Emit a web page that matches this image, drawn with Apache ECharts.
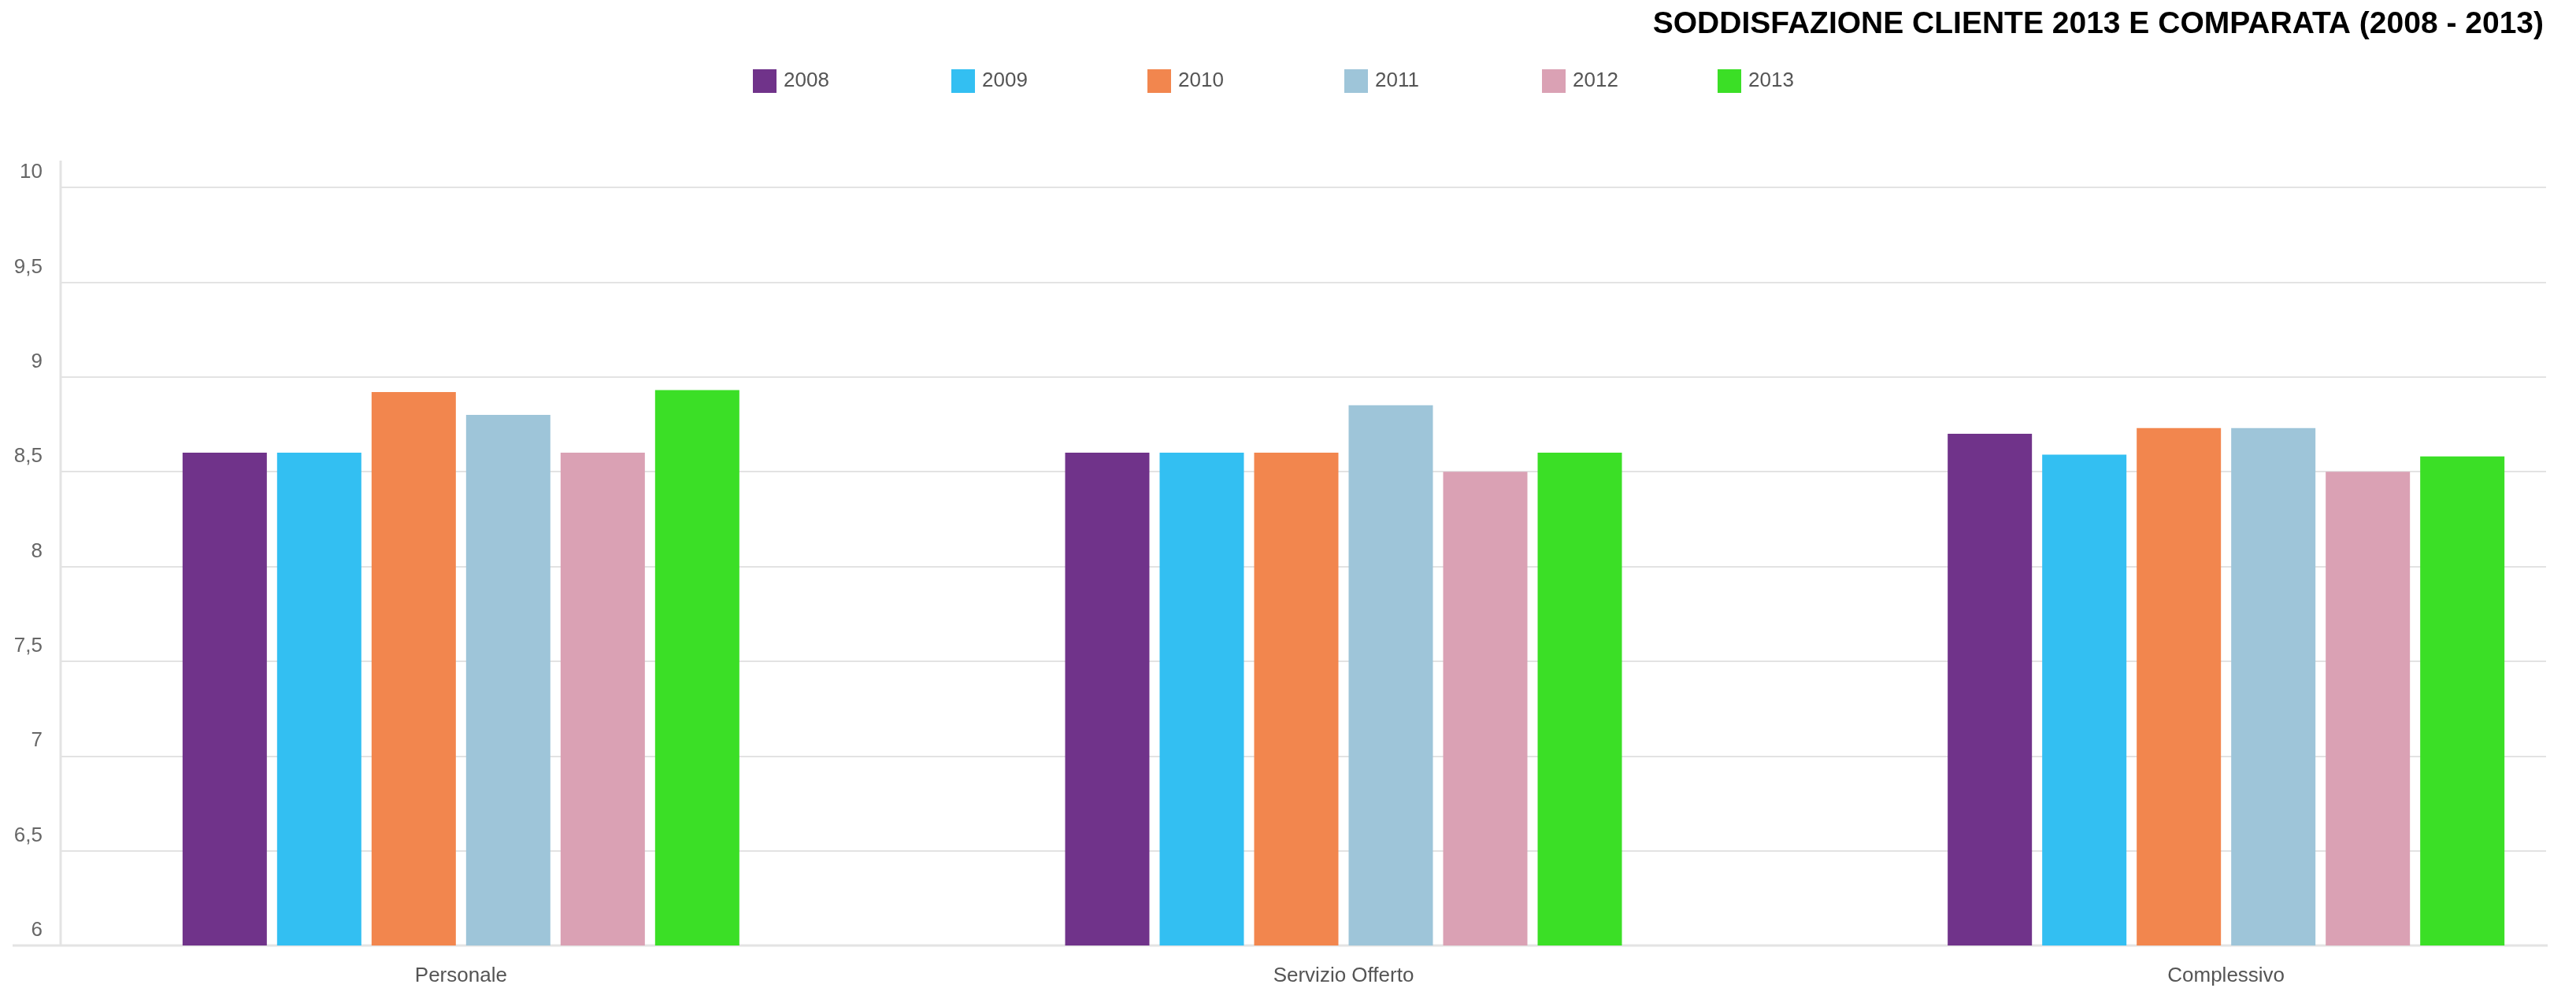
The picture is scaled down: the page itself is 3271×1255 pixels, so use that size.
<!DOCTYPE html>
<html>
<head>
<meta charset="utf-8">
<title>Soddisfazione cliente 2013 e comparata</title>
<script src="https://cdn.jsdelivr.net/npm/echarts@6/dist/echarts.min.js"></script>
<style>
  html, body { margin: 0; padding: 0; background: #ffffff; }
  #chart { width: 3271px; height: 1255px; }
</style>
</head>
<body>
<div id="chart"></div>
<script>
// Survey areas (x categories)
const categories = ['Personale', 'Servizio Offerto', 'Complessivo'];

// Years shown in the legend, one series each
const years = ['2008', '2009', '2010', '2011', '2012', '2013'];

// Average satisfaction score per area, one array per year
const v2008 = [8.6, 8.6, 8.7];
const v2009 = [8.6, 8.6, 8.59];
const v2010 = [8.92, 8.6, 8.73];
const v2011 = [8.8, 8.85, 8.73];
const v2012 = [8.6, 8.5, 8.5];
const v2013 = [8.93, 8.6, 8.58];

// Score scale ticks
const yMin = 6;
const yMax = 10;
const yStep = 0.5;

const seriesValues = [v2008, v2009, v2010, v2011, v2012, v2013];
const colors = ['#70338A', '#33BFF2', '#F2864E', '#9EC5D9', '#DAA1B4', '#3BDF26'];

// Layout
const W = 3271, H = 1255;
const plotTop = 238, plotBottom = 54;
const frameLeft = 77, frameRight = 38;
// the category band runs a little past the right edge of the page
const barsLeft = 25, barsWidth = 3362;
const axisColor = '#e3e3e3';
const legendLeft = [951, 1203, 1452, 1702, 1953, 2176];
const FONT = '"Liberation Sans", Arial, Helvetica, sans-serif';

const chart = echarts.init(document.getElementById('chart'), null, { renderer: 'canvas' });

const legends = years.map((y, i) => ({
  data: [y],
  left: legendLeft[i],
  top: 83,
  itemWidth: 30,
  itemHeight: 30,
  itemGap: 0,
  icon: 'rect',
  selectedMode: false,
  textStyle: { fontFamily: FONT, fontSize: 26, color: '#555555', padding: [0, 0, 0, 4] }
}));

const series = years.map((y, i) => ({
  name: y,
  type: 'bar',
  xAxisIndex: 0,
  yAxisIndex: 0,
  data: seriesValues[i],
  barWidth: 107,
  barGap: '12.15%',
  itemStyle: { color: colors[i] },
  z: 3
}));

chart.setOption({
  animation: false,
  backgroundColor: '#ffffff',
  color: colors,
  title: {
    text: 'SODDISFAZIONE CLIENTE 2013 E COMPARATA (2008 - 2013)',
    right: 36,
    top: 7,
    textStyle: { fontFamily: FONT, fontSize: 39, fontWeight: 'bold', color: '#000000' }
  },
  legend: legends,
  grid: [
    // bars
    { left: barsLeft, width: barsWidth, top: plotTop, bottom: plotBottom, containLabel: false, outerBoundsMode: 'none' },
    // gridlines and score labels
    { left: frameLeft, right: frameRight, top: plotTop, bottom: plotBottom, containLabel: false, outerBoundsMode: 'none' }
  ],
  xAxis: [
    {
      gridIndex: 0,
      type: 'category',
      data: categories,
      axisLine: { show: false },
      axisTick: { show: false },
      axisLabel: { fontFamily: FONT, fontSize: 26, color: '#555555', margin: 26, interval: 0 },
      splitLine: { show: false }
    },
    {
      gridIndex: 1,
      type: 'value',
      show: false
    }
  ],
  yAxis: [
    {
      gridIndex: 0,
      type: 'value',
      min: yMin,
      max: yMax,
      interval: yStep,
      show: false,
      splitLine: { show: false }
    },
    {
      gridIndex: 1,
      type: 'value',
      min: yMin,
      max: yMax,
      interval: yStep,
      axisLine: { show: false },
      axisTick: { show: false },
      axisLabel: {
        fontFamily: FONT,
        fontSize: 26,
        color: '#666666',
        margin: 23,
        verticalAlign: 'bottom',
        padding: [0, 0, 6, 0],
        formatter: v => String(v).replace('.', ',')
      },
      splitLine: { lineStyle: { color: axisColor, width: 2 } }
    }
  ],
  graphic: [
    {
      type: 'line',
      shape: { x1: frameLeft, y1: 204, x2: frameLeft, y2: H - plotBottom },
      style: { stroke: axisColor, lineWidth: 3 },
      z: 1
    },
    {
      type: 'line',
      shape: { x1: 16, y1: H - plotBottom, x2: W - 36, y2: H - plotBottom },
      style: { stroke: axisColor, lineWidth: 3 },
      z: 1
    }
  ],
  series: series
});
</script>
</body>
</html>
